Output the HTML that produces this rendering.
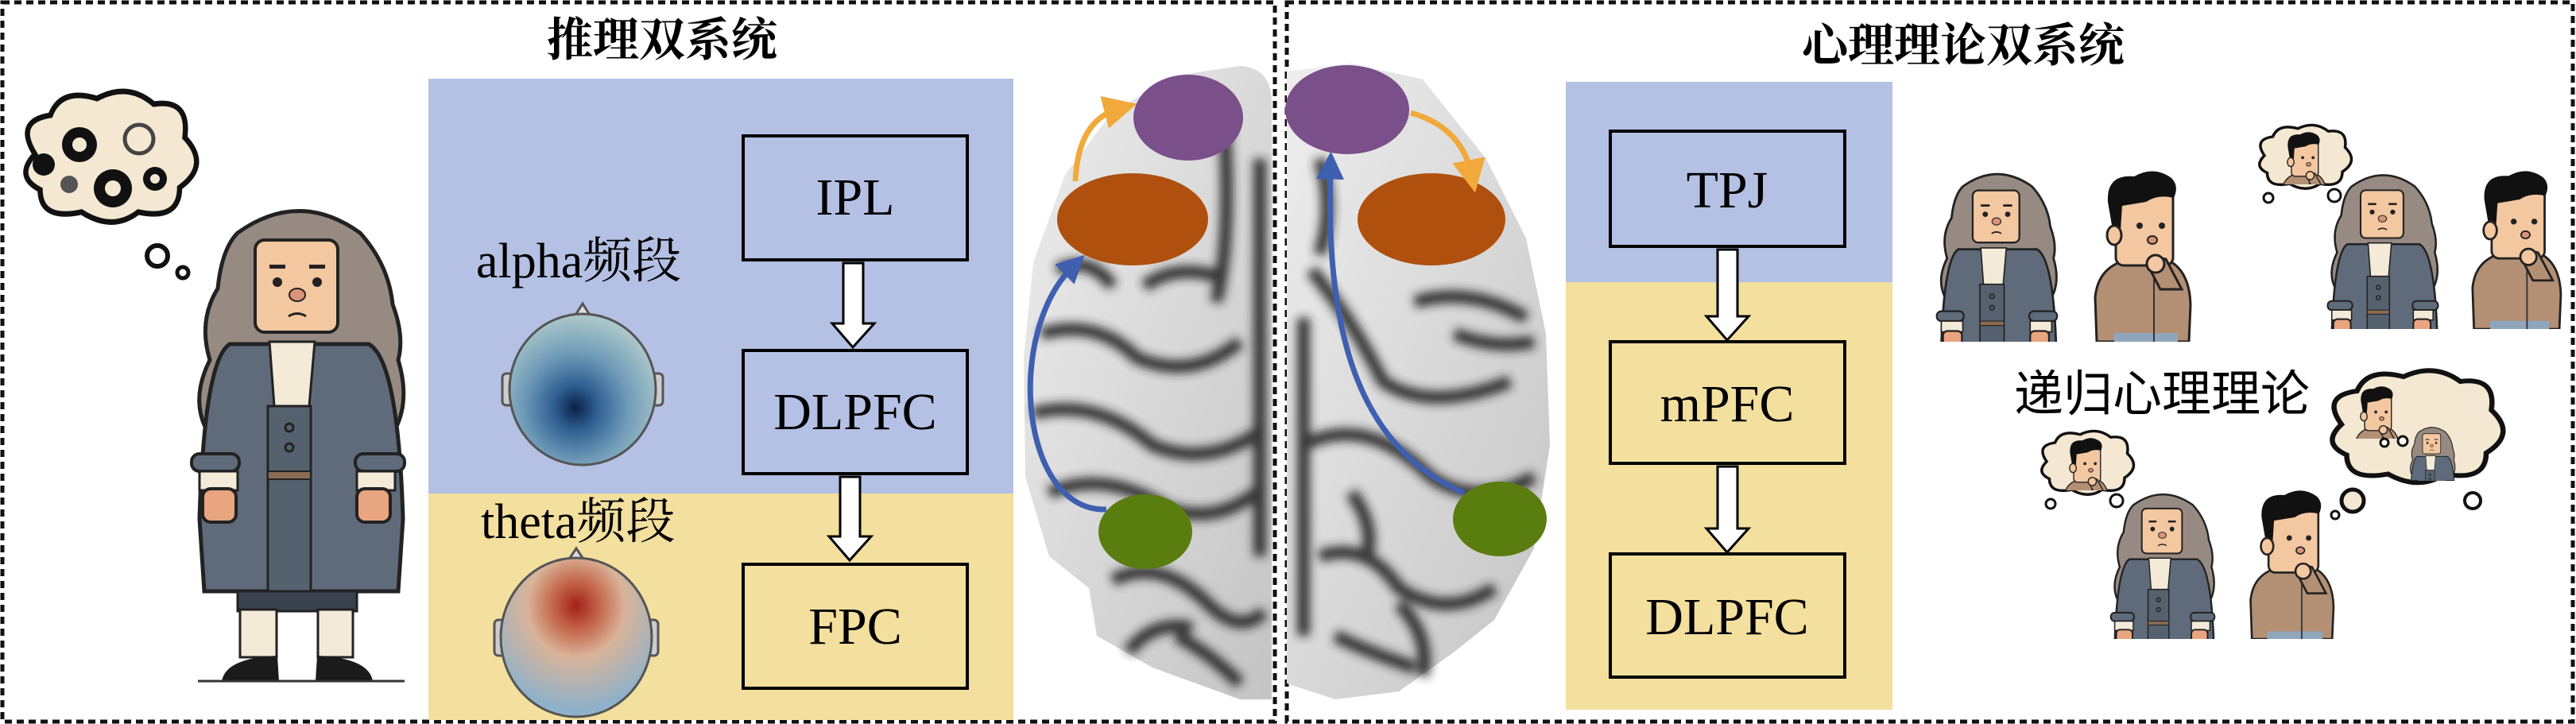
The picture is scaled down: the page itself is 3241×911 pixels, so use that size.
<!DOCTYPE html>
<html><head><meta charset="utf-8">
<style>
html,body{margin:0;padding:0;background:#fff;}
body{width:3241px;height:911px;position:relative;overflow:hidden;}
svg{position:absolute;left:0;top:0;}
</style></head><body>
<svg width="3241" height="911" viewBox="0 0 3241 911" xmlns="http://www.w3.org/2000/svg">
<defs>
  <radialGradient id="ga" cx="0.45" cy="0.62" r="0.6">
    <stop offset="0" stop-color="#0b2148"/><stop offset="0.25" stop-color="#2f5f92"/>
    <stop offset="0.6" stop-color="#6f9bb8"/><stop offset="1" stop-color="#a9c6c9"/>
  </radialGradient>
  <radialGradient id="gt" cx="0.5" cy="0.3" r="0.65">
    <stop offset="0" stop-color="#a3201a"/><stop offset="0.25" stop-color="#c56a4e"/>
    <stop offset="0.5" stop-color="#d9b49a"/><stop offset="1" stop-color="#8fb1c9"/>
  </radialGradient>
  <linearGradient id="gb" x1="0" y1="0" x2="1" y2="1">
    <stop offset="0" stop-color="#eeeeee"/><stop offset="1" stop-color="#c4c4c4"/>
  </linearGradient>
  <filter id="bl"><feGaussianBlur stdDeviation="6"/></filter>
  <marker id="ay" markerWidth="6" markerHeight="6" refX="3" refY="3" orient="auto" markerUnits="strokeWidth"><path d="M0,0 L6,3 L0,6 Z" fill="#f0a93a"/></marker>
  <marker id="ab" markerWidth="5" markerHeight="5" refX="2.5" refY="2.5" orient="auto" markerUnits="strokeWidth"><path d="M0,0 L5,2.5 L0,5 Z" fill="#3f5fb0"/></marker>

  <g id="newton">
    <path d="M60,40 Q137,-15 214,40 Q250,80 255,130 Q270,170 262,200 Q280,260 250,300 Q240,320 225,305 L50,305 Q30,320 22,290 Q0,250 25,200 Q10,150 35,110 Q40,60 60,40Z" fill="#968a82" stroke="#222" stroke-width="5"/>
    <rect x="82" y="49" width="104" height="116" rx="12" fill="#f3c7a0" stroke="#222" stroke-width="4"/>
    <rect x="100" y="80" width="20" height="5" fill="#222"/><rect x="150" y="80" width="20" height="5" fill="#222"/>
    <circle cx="110" cy="102" r="6" fill="#222"/><circle cx="160" cy="102" r="6" fill="#222"/>
    <ellipse cx="135" cy="118" rx="10" ry="8" fill="#d9937a" stroke="#222" stroke-width="2"/>
    <path d="M124,145 Q135,138 146,145" stroke="#222" stroke-width="3" fill="none"/>
    <path d="M50,180 L225,180 Q262,200 268,400 L262,491 L18,491 L12,400 Q18,200 50,180Z" fill="#5f6b7b" stroke="#222" stroke-width="5"/>
    <rect x="98" y="258" width="54" height="233" fill="#56616f" stroke="#222" stroke-width="3"/>
    <circle cx="125" cy="285" r="5" fill="none" stroke="#222" stroke-width="3"/><circle cx="125" cy="310" r="5" fill="none" stroke="#222" stroke-width="3"/>
    <rect x="98" y="340" width="54" height="10" fill="#8a6a52" stroke="#222" stroke-width="2"/>
    <path d="M100,177 L157,177 L150,258 L106,258Z" fill="#f3ead8" stroke="#222" stroke-width="3"/>
    <rect x="2" y="318" width="60" height="22" rx="10" fill="#5f6b7b" stroke="#222" stroke-width="4"/>
    <rect x="208" y="318" width="62" height="22" rx="10" fill="#5f6b7b" stroke="#222" stroke-width="4"/>
    <rect x="12" y="340" width="48" height="24" fill="#f3ead8" stroke="#222" stroke-width="3"/>
    <rect x="210" y="340" width="48" height="24" fill="#f3ead8" stroke="#222" stroke-width="3"/>
    <rect x="16" y="362" width="42" height="42" rx="10" fill="#e8a57f" stroke="#222" stroke-width="4"/>
    <rect x="210" y="362" width="42" height="42" rx="10" fill="#e8a57f" stroke="#222" stroke-width="4"/>
    <rect x="60" y="491" width="150" height="25" fill="#3a4250" stroke="#222" stroke-width="3"/>
    <rect x="63" y="514" width="46" height="60" fill="#f3ead8" stroke="#222" stroke-width="3"/>
    <rect x="161" y="514" width="44" height="60" fill="#f3ead8" stroke="#222" stroke-width="3"/>
    <path d="M40,604 Q45,575 110,572 L112,604Z" fill="#1b1b1b"/>
    <path d="M160,572 Q225,575 230,604 L158,604Z" fill="#1b1b1b"/>
    <line x1="10" y1="604" x2="270" y2="604" stroke="#333" stroke-width="3"/>
  </g>
  <g id="boy">
    <path d="M8,216 L6,160 Q10,120 50,112 L95,112 Q125,125 126,170 L124,216Z" fill="#b38f74" stroke="#222" stroke-width="3"/>
    <rect x="30" y="205" width="80" height="11" fill="#8fa6bd"/>
    <line x1="80" y1="120" x2="80" y2="216" stroke="#333" stroke-width="2"/>
    <rect x="32" y="25" width="72" height="95" rx="10" fill="#f3c7a0" stroke="#222" stroke-width="3"/>
    <path d="M22,40 Q20,5 55,8 Q80,-6 102,10 Q112,20 105,35 Q85,30 70,40 L40,45 L38,75 L28,75Z" fill="#111"/>
    <ellipse cx="30" cy="82" rx="9" ry="12" fill="#f3c7a0" stroke="#222" stroke-width="3"/>
    <circle cx="62" cy="70" r="4" fill="#222"/><circle cx="90" cy="70" r="4" fill="#222"/>
    <ellipse cx="78" cy="88" rx="6" ry="5" fill="#d9937a" stroke="#222" stroke-width="2"/>
    <path d="M88,150 L75,125 Q80,108 95,112 L115,150Z" fill="#b38f74" stroke="#222" stroke-width="3"/>
    <circle cx="82" cy="118" r="11" fill="#f3c7a0" stroke="#222" stroke-width="3"/>
  </g>
  <g id="cloud">
    <path d="M20,60 Q0,30 35,25 Q45,0 80,10 Q110,-5 135,15 Q170,10 165,45 Q190,70 160,90 Q160,120 120,112 Q95,130 65,112 Q25,120 25,92 Q0,80 20,60Z" fill="#f4e8d2" stroke="#111" stroke-width="5"/>
  </g>
</defs>

<rect x="3" y="3" width="1601" height="905" fill="none" stroke="#111" stroke-width="5" stroke-dasharray="9,6"/>
<rect x="1619" y="3" width="1618" height="905" fill="none" stroke="#111" stroke-width="5" stroke-dasharray="9,6"/>

<text x="833" y="70" font-family="'Liberation Serif','Noto Serif CJK SC',serif" font-weight="bold" font-size="58" text-anchor="middle" fill="#000">推理双系统</text>
<text x="2470" y="77" font-family="'Liberation Serif','Noto Serif CJK SC',serif" font-weight="bold" font-size="58" text-anchor="middle" fill="#000">心理理论双系统</text>

<rect x="539" y="99" width="736" height="522" fill="#b4c1e4"/>
<rect x="539" y="621" width="736" height="285" fill="#f3df9e"/>

<g fill="none" stroke="#000" stroke-width="4">
<rect x="935" y="171" width="282" height="156"/>
<rect x="935" y="441" width="282" height="155"/>
<rect x="935" y="710" width="282" height="156"/>
</g>
<g font-family="'Liberation Serif',serif" font-size="66" text-anchor="middle" fill="#000">
<text x="1076" y="270">IPL</text>
<text x="1076" y="540">DLPFC</text>
<text x="1076" y="810">FPC</text>
</g>
<g fill="#fff" stroke="#000" stroke-width="3">
<path d="M1061,331 L1086,331 L1086,407 L1100,407 L1073,437 L1047,407 L1061,407Z"/>
<path d="M1057,600 L1082,600 L1082,675 L1096,675 L1069,705 L1043,675 L1057,675Z"/>
</g>
<g font-family="'Liberation Serif','Noto Serif CJK SC',serif" font-size="62" fill="#000">
<text x="599" y="349">alpha频段</text>
<text x="605" y="677">theta频段</text>
</g>
<g stroke="#555" stroke-width="3">
<path d="M723,398 L733,382 L743,398Z" fill="#ddd"/>
<rect x="632" y="470" width="14" height="40" rx="5" fill="#ccc"/>
<rect x="820" y="470" width="14" height="40" rx="5" fill="#ccc"/>
<ellipse cx="733" cy="490" rx="92" ry="95" fill="url(#ga)"/>
<path d="M715,705 L725,690 L735,705Z" fill="#ddd"/>
<rect x="622" y="780" width="14" height="45" rx="5" fill="#ccc"/>
<rect x="814" y="780" width="14" height="45" rx="5" fill="#ccc"/>
<ellipse cx="725" cy="802" rx="95" ry="100" fill="url(#gt)"/>
</g>

<use href="#newton" x="239" y="253"/>
<g transform="translate(18,110) scale(1.3,1.4)"><use href="#cloud"/></g>
<g fill="#111">
<circle cx="100" cy="182" r="22"/><circle cx="100" cy="182" r="9" fill="#f4e8d2"/>
<circle cx="142" cy="237" r="24"/><circle cx="142" cy="237" r="10" fill="#f4e8d2"/>
<circle cx="55" cy="207" r="14"/><circle cx="195" cy="225" r="15"/><circle cx="195" cy="225" r="6" fill="#f4e8d2"/>
<circle cx="87" cy="232" r="11" fill="#555"/>
<circle cx="175" cy="175" r="18" fill="none" stroke="#444" stroke-width="5"/>
</g>
<circle cx="198" cy="322" r="13" fill="#fff" stroke="#111" stroke-width="6"/>
<circle cx="230" cy="343" r="7" fill="#fff" stroke="#111" stroke-width="5"/>

<!-- brain -->
<path d="M1560,83 Q1600,85 1600,130 L1600,880 L1560,880 L1450,840 L1380,800 L1370,740 L1320,700 L1290,600 L1288,450 L1300,330 L1340,220 L1400,140 L1480,95Z" fill="url(#gb)"/>
<path d="M1619,90 L1700,80 L1790,100 L1870,200 L1920,300 L1945,420 L1950,560 L1930,690 L1880,780 L1830,820 L1760,870 L1680,880 L1619,860Z" fill="url(#gb)"/>
<g stroke="#222" fill="none" filter="url(#bl)" opacity="0.9" stroke-width="16">
<path d="M1310,420 Q1380,400 1430,450 Q1500,480 1560,430"/>
<path d="M1300,520 Q1380,500 1450,560 Q1520,590 1590,540"/>
<path d="M1320,620 Q1390,590 1470,640 Q1530,660 1580,620"/>
<path d="M1400,730 Q1460,700 1520,760 Q1560,800 1590,770"/>
<path d="M1540,150 Q1550,300 1530,380"/>
<path d="M1440,360 Q1480,330 1540,350"/>
<path d="M1330,340 Q1370,320 1400,360"/>
<path d="M1480,800 Q1520,820 1560,860"/>
<path d="M1420,820 Q1450,780 1500,790"/>
<path d="M1585,200 L1585,700"/>
<path d="M1650,340 Q1700,400 1740,480 Q1800,520 1900,480"/>
<path d="M1640,560 Q1720,520 1800,600 Q1860,640 1930,600"/>
<path d="M1660,700 Q1720,680 1760,740 Q1820,780 1880,740"/>
<path d="M1680,800 Q1720,820 1780,840"/>
<path d="M1780,380 Q1850,360 1920,400"/>
<path d="M1660,200 Q1680,260 1660,320"/>
<path d="M1700,620 Q1730,660 1720,700"/>
<path d="M1830,420 Q1880,440 1930,430"/>
<path d="M1760,760 Q1800,800 1790,850"/>
<path d="M1640,400 L1640,800"/>
</g>
<ellipse cx="1495" cy="148" rx="69" ry="54" fill="#7a4f8a"/>
<ellipse cx="1425" cy="276" rx="95" ry="58" fill="#b0500f"/>
<ellipse cx="1441" cy="669" rx="59" ry="47" fill="#5a7d10"/>
<ellipse cx="1695" cy="138" rx="78" ry="56" fill="#7a4f8a"/>
<ellipse cx="1801" cy="276" rx="93" ry="58" fill="#b0500f"/>
<ellipse cx="1887" cy="653" rx="59" ry="47" fill="#5a7d10"/>
<path d="M1353,228 Q1356,150 1410,136" stroke="#f0a93a" stroke-width="7" fill="none" marker-end="url(#ay)"/>
<path d="M1775,142 Q1840,160 1852,222" stroke="#f0a93a" stroke-width="7" fill="none" marker-end="url(#ay)"/>
<path d="M1392,641 C1285,645 1262,420 1352,333" stroke="#3f5fb0" stroke-width="7" fill="none" marker-end="url(#ab)"/>
<path d="M1842,620 C1700,560 1668,400 1674,208" stroke="#3f5fb0" stroke-width="7" fill="none" marker-end="url(#ab)"/>

<rect x="1970" y="103" width="411" height="252" fill="#b4c1e4"/>
<rect x="1970" y="355" width="411" height="538" fill="#f3df9e"/>
<g fill="none" stroke="#000" stroke-width="4">
<rect x="2026" y="165" width="295" height="145"/>
<rect x="2026" y="430" width="295" height="153"/>
<rect x="2026" y="697" width="295" height="155"/>
</g>
<g font-family="'Liberation Serif',serif" font-size="66" text-anchor="middle" fill="#000">
<text x="2173" y="261">TPJ</text>
<text x="2173" y="530">mPFC</text>
<text x="2173" y="798">DLPFC</text>
</g>
<g fill="#fff" stroke="#000" stroke-width="3">
<path d="M2161,314 L2186,314 L2186,398 L2200,398 L2173,428 L2147,398 L2161,398Z"/>
<path d="M2161,587 L2186,587 L2186,665 L2200,665 L2173,695 L2147,665 L2161,665Z"/>
</g>

<svg x="2435" y="212" width="156" height="218" viewBox="0 0 274 386"><use href="#newton"/></svg>
<svg x="2630" y="214" width="128" height="216" viewBox="0 0 128 216"><use href="#boy"/></svg>
<svg x="2926" y="214" width="145" height="200" viewBox="0 0 274 386"><use href="#newton"/></svg>
<svg x="3104" y="214" width="121" height="200" viewBox="0 0 128 216"><use href="#boy"/></svg>
<svg x="2652" y="616" width="139" height="188" viewBox="0 0 274 386"><use href="#newton"/></svg>
<svg x="2824" y="616" width="116" height="188" viewBox="0 0 128 216"><use href="#boy"/></svg>

<g transform="translate(2835,155) scale(0.7,0.68)"><use href="#cloud"/></g>
<svg x="2868" y="160" width="60" height="72" viewBox="0 0 128 130"><use href="#boy"/></svg>
<circle cx="2854" cy="249" r="6" fill="#fff" stroke="#111" stroke-width="3"/>
<circle cx="2937" cy="246" r="8" fill="#fff" stroke="#111" stroke-width="3"/>

<g transform="translate(2561,540) scale(0.7,0.68)"><use href="#cloud"/></g>
<svg x="2594" y="545" width="60" height="72" viewBox="0 0 128 130"><use href="#boy"/></svg>
<circle cx="2580" cy="634" r="6" fill="#fff" stroke="#111" stroke-width="3"/>
<circle cx="2663" cy="630" r="8" fill="#fff" stroke="#111" stroke-width="3"/>

<g transform="translate(2920,462) scale(1.3,1.2)"><use href="#cloud"/></g>
<svg x="2960" y="480" width="60" height="72" viewBox="0 0 128 130"><use href="#boy"/></svg>
<svg x="3030" y="535" width="60" height="70" viewBox="0 0 274 320"><use href="#newton"/></svg>
<circle cx="3000" cy="557" r="5" fill="#fff" stroke="#111" stroke-width="3"/>
<circle cx="3023" cy="555" r="6" fill="#fff" stroke="#111" stroke-width="3"/>
<circle cx="2960" cy="630" r="14" fill="#f4e8d2" stroke="#111" stroke-width="5"/>
<circle cx="2938" cy="648" r="5" fill="#fff" stroke="#111" stroke-width="3"/>
<circle cx="3111" cy="630" r="10" fill="#fff" stroke="#111" stroke-width="4"/>

<text x="2534" y="517" font-family="'Liberation Sans','Noto Sans CJK SC',sans-serif" font-size="62" fill="#000">递归心理理论</text>
</svg>
</body></html>
